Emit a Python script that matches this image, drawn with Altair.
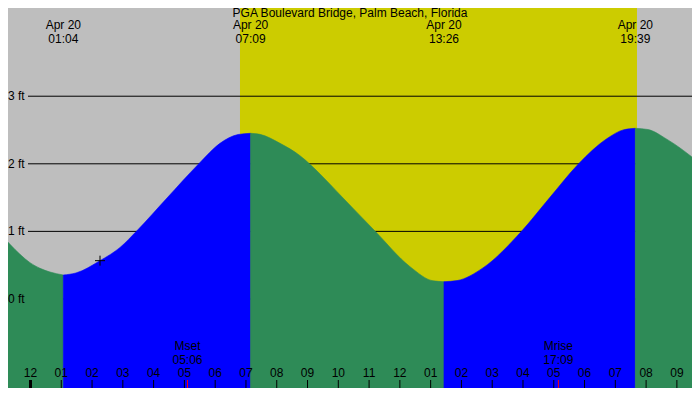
import altair as alt
import pandas as pd

# ---------------- data ----------------
title_text = "PGA Boulevard Bridge, Palm Beach, Florida"

# tide curve, hours after midnight Apr 20 and height in feet
ebb0_h = [-0.991, -0.666, -0.341, -0.016, 0.309, 0.634, 1.067]
ebb0_ft = [0.977, 0.809, 0.661, 0.537, 0.454, 0.399, 0.355]
flood1_h = [1.067, 1.478, 2.258, 2.908, 3.450, 4.435, 5.452, 6.157, 6.742, 7.15]
flood1_ft = [0.355, 0.385, 0.567, 0.762, 1.006, 1.494, 1.993, 2.303, 2.433, 2.451]
ebb2_h = [7.15, 7.456, 8.106, 8.756, 9.406, 10.10, 11.19, 12.33, 13.077, 13.433]
ebb2_ft = [2.451, 2.436, 2.303, 2.120, 1.850, 1.520, 1.006, 0.478, 0.269, 0.256]
flood3_h = [13.433, 13.857, 14.70, 15.96, 16.87, 17.80, 18.72, 19.282, 19.65]
flood3_ft = [0.256, 0.272, 0.460, 1.006, 1.500, 1.997, 2.370, 2.505, 2.525]
ebb4_h = [19.65, 20.062, 20.67, 21.75]
ebb4_ft = [2.525, 2.507, 2.365, 2.007]

# daylight (sunrise / sunset) in hours
day_start = [6.806]
day_end = [19.704]

# tide extremes labels
tide_hours = [1.067, 7.15, 13.433, 19.65]
tide_dates = ["Apr 20", "Apr 20", "Apr 20", "Apr 20"]
tide_times = ["01:04", "07:09", "13:26", "19:39"]

# moon events
moon_hours = [5.1, 17.15]
moon_events = ["Mset", "Mrise"]
moon_times = ["05:06", "17:09"]

# hour ticks along the bottom
hour_ticks = [-1, 0, 1, 2, 3, 4, 5, 6, 7, 8, 9, 10, 11, 12,
              13, 14, 15, 16, 17, 18, 19, 20, 21]
hour_labels = ["11", "12", "01", "02", "03", "04", "05", "06", "07", "08", "09", "10",
               "11", "12", "01", "02", "03", "04", "05", "06", "07", "08", "09"]
midnight = [0]

# level lines
levels = [0, 1, 2, 3]
level_labels = ["0 ft", "1 ft", "2 ft", "3 ft"]

# current-time marker
marker_h = [2.258]
marker_ft = [0.567]

# ---------------- build tables ----------------
rows = []
for seg, (phase, hs, fts) in enumerate([
    ("ebb", ebb0_h, ebb0_ft),
    ("flood", flood1_h, flood1_ft),
    ("ebb", ebb2_h, ebb2_ft),
    ("flood", flood3_h, flood3_ft),
    ("ebb", ebb4_h, ebb4_ft),
]):
    for h, f in zip(hs, fts):
        rows.append({"h": h, "ft": f, "seg": seg, "phase": phase})
curve = pd.DataFrame(rows)

W, H = 684, 380
FONT = "Liberation Sans"
xs = alt.Scale(domain=[-0.731, 21.491], nice=False, zero=False)
ys = alt.Scale(domain=[-1.317, 4.305], nice=False, zero=False)
phase_scale = alt.Scale(domain=["ebb", "flood"], range=["#2E8B57", "#0000FF"])


def txt(**kw):
    return dict(font=FONT, fontSize=12, color="black", **kw)


day = alt.Chart(pd.DataFrame({"h": day_start, "h2": day_end})).mark_rect(
    color="#CCCC00"
).encode(
    x=alt.X("h:Q", scale=xs, axis=None),
    x2="h2:Q",
    y=alt.value(0),
    y2=alt.value(H),
)

level_df = pd.DataFrame({"ft": levels, "label": level_labels})
rules = alt.Chart(level_df).mark_rule(color="black", strokeWidth=1).encode(
    y=alt.Y("ft:Q", scale=ys, axis=None),
    x=alt.value(20),
    x2=alt.value(W),
)

area = alt.Chart(curve).mark_area(interpolate="monotone", clip=True, strokeWidth=0.6).encode(
    x=alt.X("h:Q", scale=xs, axis=None),
    y=alt.Y("ft:Q", scale=ys, axis=None, stack=None),
    y2=alt.value(H),
    color=alt.Color("phase:N", scale=phase_scale, legend=None),
    stroke=alt.Stroke("phase:N", scale=phase_scale, legend=None),
    detail="seg:N",
)

level_text = alt.Chart(level_df).mark_text(**txt(align="left", baseline="middle")).encode(
    y=alt.Y("ft:Q", scale=ys, axis=None),
    x=alt.value(0),
    text="label:N",
)

marker = alt.Chart(pd.DataFrame({"h": marker_h, "ft": marker_ft})).mark_point(
    shape="M-1,0L1,0M0,-1L0,1", size=100, filled=False, color="black",
    strokeWidth=1, opacity=1
).encode(
    x=alt.X("h:Q", scale=xs, axis=None),
    y=alt.Y("ft:Q", scale=ys, axis=None),
)

hours_df = pd.DataFrame({"h": hour_ticks, "label": hour_labels})
hour_tick_marks = alt.Chart(hours_df).mark_rule(color="black", strokeWidth=1).encode(
    x=alt.X("h:Q", scale=xs, axis=None),
    y=alt.value(H - 8),
    y2=alt.value(H),
)
midnight_mark = alt.Chart(pd.DataFrame({"h": midnight})).mark_rule(
    color="black", strokeWidth=3
).encode(
    x=alt.X("h:Q", scale=xs, axis=None),
    y=alt.value(H - 8),
    y2=alt.value(H),
)
hour_text = alt.Chart(hours_df).mark_text(**txt(align="center", baseline="middle")).encode(
    x=alt.X("h:Q", scale=xs, axis=None),
    y=alt.value(H - 15),
    text="label:N",
)

moon_df = pd.DataFrame({"h": moon_hours, "ev": moon_events, "t": moon_times})
moon_ticks = alt.Chart(moon_df).mark_rule(color="red", strokeWidth=1).encode(
    x=alt.X("h:Q", scale=xs, axis=None),
    y=alt.value(H - 8),
    y2=alt.value(H),
)
moon_ev = alt.Chart(moon_df).mark_text(**txt(align="center", baseline="middle")).encode(
    x=alt.X("h:Q", scale=xs, axis=None),
    y=alt.value(H - 42),
    text="ev:N",
)
moon_t = alt.Chart(moon_df).mark_text(**txt(align="center", baseline="middle")).encode(
    x=alt.X("h:Q", scale=xs, axis=None),
    y=alt.value(H - 28.5),
    text="t:N",
)

tide_df = pd.DataFrame({"h": tide_hours, "d": tide_dates, "t": tide_times})
tide_d = alt.Chart(tide_df).mark_text(**txt(align="center", baseline="middle")).encode(
    x=alt.X("h:Q", scale=xs, axis=None),
    y=alt.value(17),
    text="d:N",
)
tide_t = alt.Chart(tide_df).mark_text(**txt(align="center", baseline="middle")).encode(
    x=alt.X("h:Q", scale=xs, axis=None),
    y=alt.value(30.5),
    text="t:N",
)

title = alt.Chart(pd.DataFrame({"title": [title_text]})).mark_text(
    **txt(align="center", baseline="top")
).encode(
    x=alt.value(342),
    y=alt.value(0),
    text="title:N",
)

chart = alt.layer(
    day, rules, area, level_text, marker,
    hour_tick_marks, midnight_mark, moon_ticks, hour_text,
    moon_ev, moon_t, tide_d, tide_t, title,
).properties(
    width=W, height=H, background="#BEBEBE", padding=0, autosize="none"
).configure_view(stroke=None)

chart.save("out.html", embed_options={"renderer": "svg", "actions": False})
